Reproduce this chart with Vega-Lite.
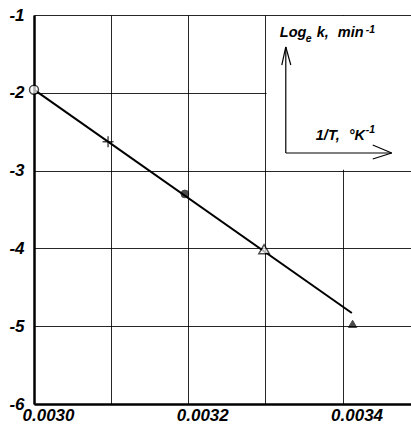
{
  "$schema": "https://vega.github.io/schema/vega-lite/v6.json",
  "autosize": "none",
  "width": 378,
  "height": 389,
  "padding": {"left": 34, "top": 15, "right": 0, "bottom": 21},
  "background": "white",
  "config": {
    "view": {"stroke": null},
    "font": "Liberation Sans",
    "axis": {
      "labelFont": "Liberation Sans",
      "labelFontStyle": "italic",
      "labelFontWeight": "bold",
      "labelFontSize": 17,
      "labelColor": "black",
      "domainColor": "black",
      "domainWidth": 2.5,
      "gridColor": "black",
      "gridWidth": 1,
      "gridOpacity": 0.85,
      "ticks": false,
      "title": null
    }
  },
  "datasets": {
    "fit": [
      {"invT": 0.0030, "logk": -1.96},
      {"invT": 0.003412, "logk": -4.83}
    ],
    "pts": [
      {"invT": 0.0030, "logk": -1.96, "run": "A"},
      {"invT": 0.003096, "logk": -2.63, "run": "B"},
      {"invT": 0.0031956, "logk": -3.30, "run": "C"},
      {"invT": 0.0032983, "logk": -4.01, "run": "D"},
      {"invT": 0.003413, "logk": -4.97, "run": "E"}
    ],
    "box": [
      {"x1": 0.0033015, "x2": 0.0036, "y1": -1.012, "y2": -2.988}
    ],
    "arrows": [
      {"x1": 0.0033264, "y1": -2.774, "x2": 0.0033264, "y2": -1.411},
      {"x1": 0.0033264, "y1": -1.411, "x2": 0.0033212, "y2": -1.643},
      {"x1": 0.0033264, "y1": -1.411, "x2": 0.0033329, "y2": -1.643},
      {"x1": 0.0033264, "y1": -2.774, "x2": 0.0034637, "y2": -2.774},
      {"x1": 0.0034637, "y1": -2.774, "x2": 0.0034391, "y2": -2.671},
      {"x1": 0.0034637, "y1": -2.774, "x2": 0.0034391, "y2": -2.851}
    ],
    "mainText": [
      {"x": 0.0033187, "y": -1.283, "t": "Log"},
      {"x": 0.0033666, "y": -1.283, "t": "k,"},
      {"x": 0.0033938, "y": -1.283, "t": "min"},
      {"x": 0.0033653, "y": -2.607, "t": "1/T,"},
      {"x": 0.0034080, "y": -2.607, "t": "°K"}
    ],
    "smallText": [
      {"x": 0.0033523, "y": -1.347, "t": "e"},
      {"x": 0.0034301, "y": -1.231, "t": "-1"},
      {"x": 0.0034301, "y": -2.517, "t": "-1"}
    ]
  },
  "encoding": {
    "x": {
      "type": "quantitative",
      "scale": {"domain": [0.0030, 0.00349], "nice": false, "zero": false},
      "axis": {
        "values": [0.0030, 0.0031, 0.0032, 0.0033, 0.0034],
        "labelExpr": "round(datum.value*10000) % 2 == 0 ? format(datum.value, '.4f') : ''",
        "labelPadding": 3,
        "labelOffset": 14,
        "labelFlush": false
      }
    },
    "y": {
      "type": "quantitative",
      "scale": {"domain": [-6, -1], "nice": false, "zero": false},
      "axis": {
        "values": [-6, -5, -4, -3, -2, -1],
        "labelExpr": "'-' + abs(datum.value)",
        "labelPadding": 10,
        "labelFlush": false
      }
    }
  },
  "layer": [
    {
      "data": {"name": "box"},
      "mark": {"type": "rect", "fill": "white", "clip": true},
      "encoding": {
        "x": {"field": "x1"}, "x2": {"field": "x2"},
        "y": {"field": "y1"}, "y2": {"field": "y2"}
      }
    },
    {
      "data": {"name": "arrows"},
      "mark": {"type": "rule", "color": "black", "strokeWidth": 1.2},
      "encoding": {
        "x": {"field": "x1"}, "x2": {"field": "x2"},
        "y": {"field": "y1"}, "y2": {"field": "y2"}
      }
    },
    {
      "data": {"name": "fit"},
      "mark": {"type": "line", "color": "black", "strokeWidth": 2},
      "encoding": {"x": {"field": "invT"}, "y": {"field": "logk"}}
    },
    {
      "data": {"name": "pts"},
      "transform": [{"filter": "datum.run == 'A'"}],
      "mark": {"type": "point", "shape": "circle", "size": 80, "filled": true, "fill": "white", "stroke": "black", "strokeWidth": 1.5},
      "encoding": {"x": {"field": "invT"}, "y": {"field": "logk"}}
    },
    {
      "data": {"name": "pts"},
      "transform": [{"filter": "datum.run == 'B'"}],
      "mark": {"type": "point", "shape": "M-1,0L1,0M0,-1L0,1", "size": 120, "filled": false, "stroke": "black", "strokeWidth": 1.5},
      "encoding": {"x": {"field": "invT"}, "y": {"field": "logk"}}
    },
    {
      "data": {"name": "pts"},
      "transform": [{"filter": "datum.run == 'C'"}],
      "mark": {"type": "point", "shape": "circle", "size": 60, "filled": true, "fill": "black", "stroke": "black", "strokeWidth": 1},
      "encoding": {"x": {"field": "invT"}, "y": {"field": "logk"}}
    },
    {
      "data": {"name": "pts"},
      "transform": [{"filter": "datum.run == 'D'"}],
      "mark": {"type": "point", "shape": "triangle-up", "size": 110, "filled": true, "fill": "white", "stroke": "black", "strokeWidth": 1.5},
      "encoding": {"x": {"field": "invT"}, "y": {"field": "logk"}}
    },
    {
      "data": {"name": "pts"},
      "transform": [{"filter": "datum.run == 'E'"}],
      "mark": {"type": "point", "shape": "triangle-up", "size": 70, "filled": true, "fill": "black", "stroke": "black", "strokeWidth": 1},
      "encoding": {"x": {"field": "invT"}, "y": {"field": "logk"}}
    },
    {
      "data": {"name": "mainText"},
      "mark": {"type": "text", "align": "left", "baseline": "alphabetic", "font": "Liberation Sans", "fontStyle": "italic", "fontWeight": "bold", "fontSize": 14.5, "color": "black"},
      "encoding": {"x": {"field": "x"}, "y": {"field": "y"}, "text": {"field": "t"}}
    },
    {
      "data": {"name": "smallText"},
      "mark": {"type": "text", "align": "left", "baseline": "alphabetic", "font": "Liberation Sans", "fontStyle": "italic", "fontWeight": "bold", "fontSize": 10.5, "color": "black"},
      "encoding": {"x": {"field": "x"}, "y": {"field": "y"}, "text": {"field": "t"}}
    }
  ]
}
